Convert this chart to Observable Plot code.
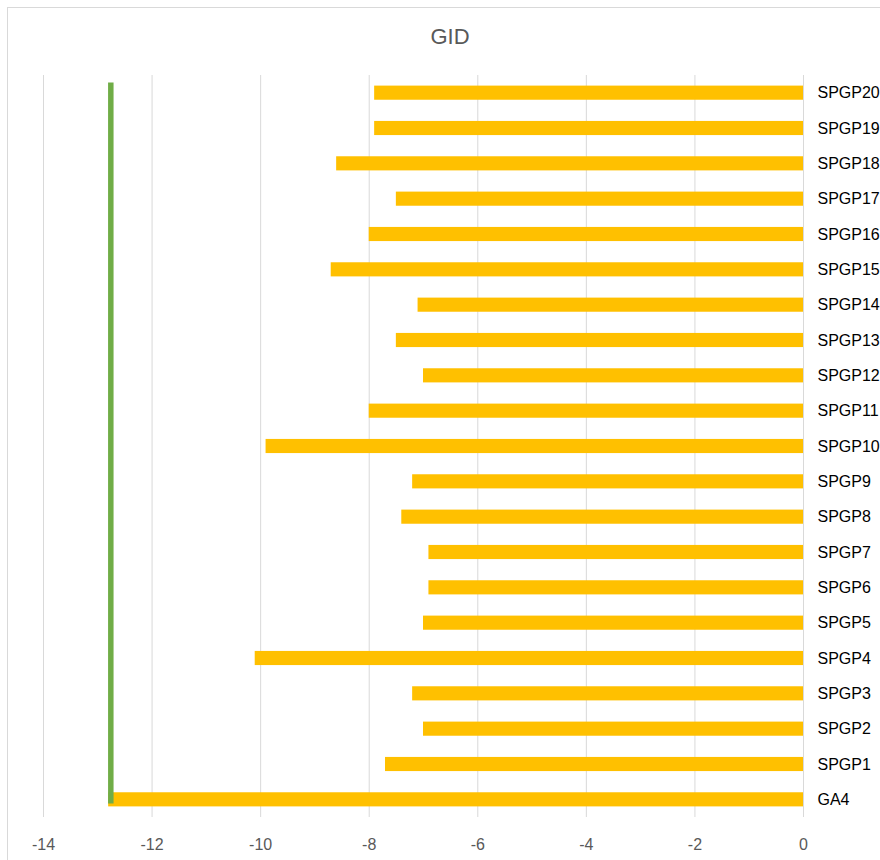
<!DOCTYPE html>
<html>
<head>
<meta charset="utf-8">
<script src="https://cdn.jsdelivr.net/npm/d3@7"></script>
<script src="https://cdn.jsdelivr.net/npm/@observablehq/plot@0.6"></script>
<style>
  html, body { margin: 0; padding: 0; background: #fff; width: 880px; height: 860px; overflow: hidden; }
  #frame { position: absolute; left: 7px; top: 7px; width: 900px; height: 900px; border: 1px solid #d9d9d9; box-sizing: border-box; }
  #title { position: absolute; left: 0; width: 900px; top: 25.6px; text-align: center; font: 22px "Liberation Sans", Arial, sans-serif; line-height: 22px; color: #595959; }
  #chart { position: absolute; left: 0; top: 60px; }
</style>
</head>
<body>
<div id="frame"></div>
<div id="title">GID</div>
<div id="chart"></div>
<script>
const categories = ["GA4","SPGP1","SPGP2","SPGP3","SPGP4","SPGP5","SPGP6","SPGP7","SPGP8","SPGP9","SPGP10",
  "SPGP11","SPGP12","SPGP13","SPGP14","SPGP15","SPGP16","SPGP17","SPGP18","SPGP19","SPGP20"];
const values = [-12.8, -7.7, -7.0, -7.2, -10.1, -7.0, -6.9, -6.9, -7.4, -7.2, -9.9,
  -8.0, -7.0, -7.5, -7.1, -8.7, -8.0, -7.5, -8.6, -7.9, -7.9];
const referenceValue = [-12.76];
const xTicks = [-14, -12, -10, -8, -6, -4, -2, 0];

const data = categories.map((c, i) => ({category: c, value: values[i]}));
const yOrder = categories.slice().reverse();

const chart = Plot.plot({
  width: 880,
  height: 800,
  marginLeft: 43,
  marginRight: 77,
  marginTop: 15,
  marginBottom: 43,
  style: {fontFamily: '"Liberation Sans", Arial, sans-serif', fontSize: "16px", background: "transparent"},
  x: {domain: [-14, 0], label: null},
  y: {domain: yOrder, paddingInner: 0.6, paddingOuter: 0.3, round: false, label: null},
  marks: [
    Plot.gridX(xTicks, {stroke: "#d9d9d9", strokeOpacity: 1, strokeWidth: 1}),
    Plot.barX(data, {x: "value", y: "category", fill: "#FFC000"}),
    Plot.ruleX(referenceValue, {x: d => d, y1: () => "SPGP20", y2: () => "GA4", stroke: "#70AD47", strokeWidth: 5.5, insetTop: -3, insetBottom: 3}),
    Plot.axisX(xTicks, {tickSize: 0, tickPadding: 21, color: "#595959", tickFormat: d => String(d), label: null}),
    Plot.axisY({anchor: "right", tickSize: 0, tickPadding: 14, color: "#000", label: null})
  ]
});
document.getElementById("chart").appendChild(chart);
</script>
</body>
</html>
